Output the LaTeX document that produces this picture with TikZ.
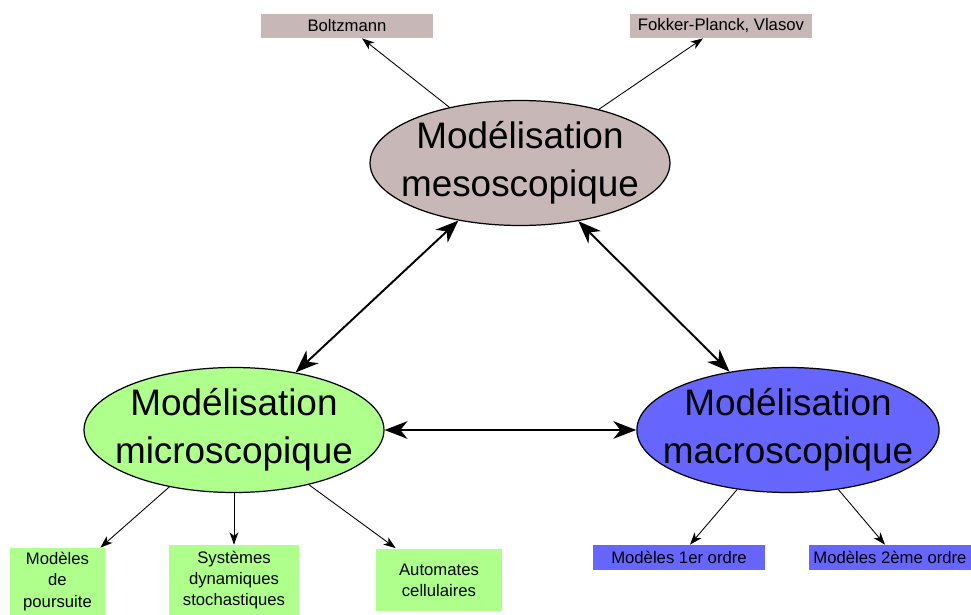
\documentclass[tikz,border=0pt]{standalone}
\usepackage{fontspec}
\setmainfont{Liberation Sans}
\usetikzlibrary{arrows.meta,shapes.geometric}
\definecolor{mesocol}{HTML}{C8B7B7}
\definecolor{microcol}{HTML}{AFFF8C}
\definecolor{macrocol}{HTML}{6666FF}
\tikzset{
  modele/.style={ellipse,draw=black,line width=0.7pt,minimum width=6cm,minimum height=2.5cm,inner xsep=-0.26cm,inner ysep=0pt,align=center,font=\fontsize{21}{27.5}\selectfont},
  feuille/.style={rectangle,draw=none,inner sep=0pt,align=center,font=\fontsize{9.5}{12}\selectfont},
  lien/.style={-{Stealth[length=7pt,width=5pt,inset=2pt]},line width=0.5pt},
  echange/.style={{Stealth[length=13pt,width=10pt,inset=4pt]}-{Stealth[length=13pt,width=10pt,inset=4pt]},line width=1.1pt}
}
\begin{document}
\begin{tikzpicture}[x=0.02cm,y=-0.02cm]
  \useasboundingbox (0,0) rectangle (971,615);
  % les trois echelles
  \node[modele,fill=mesocol] (meso) at (520,163) {Modélisation\\mesoscopique};
  \node[modele,fill=microcol] (micro) at (234,430) {Modélisation\\microscopique};
  \node[modele,fill=macrocol,inner xsep=-0.365cm] (macro) at (788,430) {Modélisation\\macroscopique};
  % les modeles
  \node[feuille,fill=mesocol,minimum width=3.44cm,minimum height=0.48cm] (boltz) at (347,26) {Boltzmann};
  \node[feuille,fill=mesocol,minimum width=3.64cm,minimum height=0.48cm] (fokker) at (721,26) {Fokker-Planck, Vlasov};
  \node[feuille,fill=microcol,minimum width=1.9cm,minimum height=1.34cm] (poursuite) at (57.5,581.5) {Modèles\\de\\poursuite};
  \node[feuille,fill=microcol,minimum width=2.6cm,minimum height=1.4cm] (systemes) at (234,580) {Systèmes\\dynamiques\\stochastiques};
  \node[feuille,fill=microcol,minimum width=2.52cm,minimum height=1.26cm] (automates) at (439,580) {Automates\\cellulaires};
  \node[feuille,fill=macrocol,minimum width=3.44cm,minimum height=0.5cm] (ordre1) at (679,557.5) {Modèles 1er ordre};
  \node[feuille,fill=macrocol,minimum width=3.24cm,minimum height=0.5cm] (ordre2) at (890,557.5) {Modèles 2ème ordre};
  % liens
  \draw[lien] (meso) -- ([xshift=0.3cm]boltz.south);
  \draw[lien] (meso) -- ([xshift=-0.36cm]fokker.south);
  \draw[echange] (meso) -- (micro);
  \draw[echange] (meso) -- (macro);
  \draw[echange] (micro) -- (macro);
  \draw[lien] (micro) -- ([xshift=-0.1cm]poursuite.north east);
  \draw[lien] (micro) -- (systemes.north);
  \draw[lien] (micro) -- ([xshift=0.4cm]automates.north west);
  \draw[lien] (macro) -- ([xshift=0.22cm]ordre1.north);
  \draw[lien] (macro) -- ([xshift=-0.1cm]ordre2.north);
\end{tikzpicture}
\end{document}
